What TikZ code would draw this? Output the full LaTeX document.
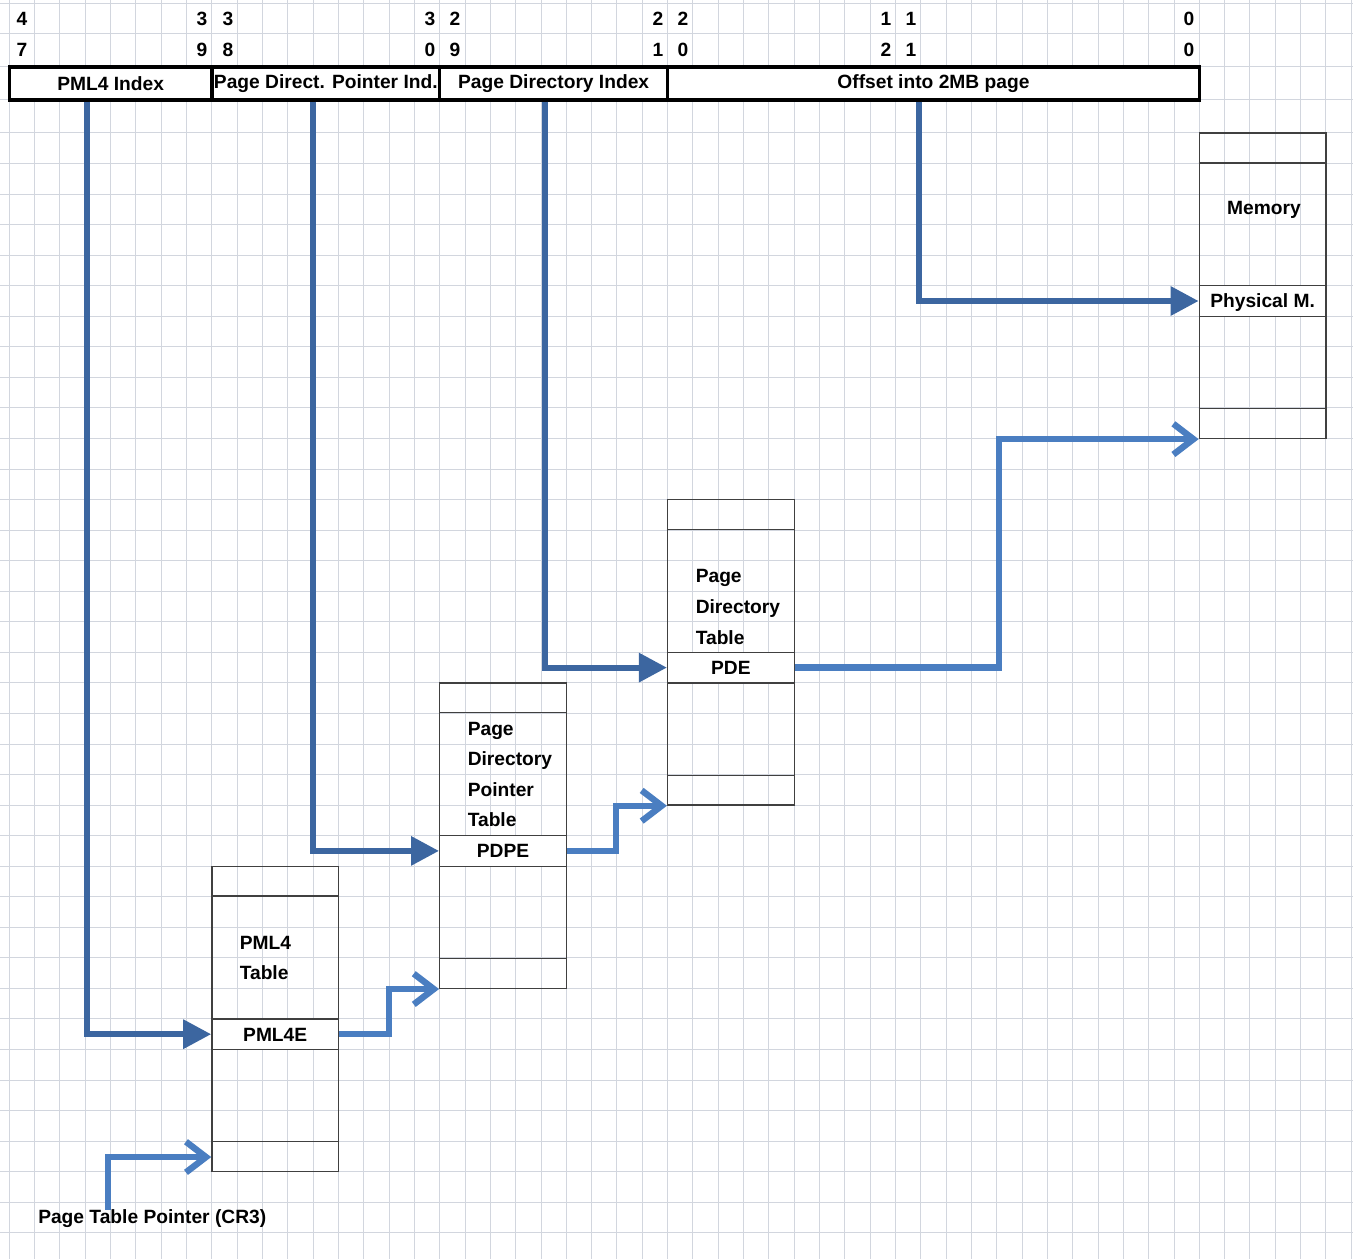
\documentclass[tikz,border=0pt]{standalone}
\usepackage{fontspec}
\setmainfont{Liberation Sans}
\usetikzlibrary{arrows.meta, positioning, calc}

\definecolor{gridgray}{RGB}{210,214,222}
\definecolor{darkarrow}{RGB}{60,102,160}
\definecolor{lightarrow}{RGB}{74,126,193}

\begin{document}
\begin{tikzpicture}[
    x=0.75pt, y=-0.75pt,
    every node/.style = {font=\fontsize{14.4}{22.91}\selectfont\bfseries, inner sep=0pt},
    gridline/.style   = {draw=gridgray, line width=0.75pt},
    fieldbox/.style   = {draw, line width=2.4pt, fill=white, minimum height=24.75pt},
    tablebox/.style   = {draw=black!75, line width=1pt, minimum width=94.95pt,
                         minimum height=229.1pt},
    rowline/.style    = {draw=black!75, line width=1pt},
    entrybox/.style   = {draw=black!75, line width=1pt, fill=white, minimum width=94.95pt,
                         minimum height=22.91pt, text height=10.4pt, text depth=0pt},
    bitnum/.style     = {anchor=center},
    darr/.style       = {-{Triangle[length=21pt, width=21pt]}, line width=4.6pt, draw=darkarrow},
    larr/.style       = {-{Straight Barb[length=15pt, width=23pt]}, line width=4.8pt, draw=lightarrow}
  ]
  \useasboundingbox (0,0) rectangle (1353,1259);
  \fill[white] (0,0) rectangle (1353,1259);

  % sheet grid
  \foreach \k in {0,...,53}
    \draw[gridline] ({9.3+25.32*\k},0) -- ({9.3+25.32*\k},1259);
  \foreach \y in {4,34,67,100}
    \draw[gridline] (0,\y) -- (1353,\y);
  \foreach \j in {0,...,36}
    \draw[gridline] (0,{133+30.55*\j}) -- (1353,{133+30.55*\j});

  % bit numbers
  \foreach \x/\hi/\lo in {22/4/7, 202/3/9, 228/3/8, 430/3/0, 455/2/9,
                          658/2/1, 683/2/0, 886/1/2, 911/1/1, 1189/0/0} {
    \node[bitnum] (hi\x) at (\x,19) {\hi};
    \node[bitnum] (lo\x) at (\x,50) {\lo};
  }

  % linear address fields
  \node[fieldbox, minimum width=151.95pt] (pml4idx) at (110.6,83.5) {PML4 Index};
  \node[fieldbox, minimum width=170.85pt] (pdpidx)  at (325.8,83.5) {Page Direct. Pointer Ind.};
  \node[fieldbox, minimum width=170.9pt]  (pdidx)   at (553.65,83.5) {Page Directory Index};
  \node[fieldbox, minimum width=398.8pt]  (offidx)  at (933.45,83.5) {Offset into 2MB page};

  % tables
  \node[tablebox] (mem)  at (1262.6,285.75) {};
  \node[tablebox] (pdt)  at (730.9,652.35) {};
  \node[tablebox] (pdpt) at (503,835.65) {};
  \node[tablebox] (pml4) at (275.2,1018.95) {};
  \foreach \t in {mem,pdt,pdpt,pml4} {
    \draw[rowline] ($(\t.north west)+(0,30.55)$) -- ($(\t.north east)+(0,30.55)$);
    \draw[rowline] ($(\t.south west)+(0,-30.55)$) -- ($(\t.south east)+(0,-30.55)$);
  }

  % table names
  \node (memname) at (1264,210) {Memory};
  \node[anchor=west, align=left] (pdtname)  at (695.5,607) {Page\\Directory\\Table};
  \node[anchor=west, align=left] (pdptname) at (467.5,774.5) {Page\\Directory\\Pointer\\Table};
  \node[anchor=west, align=left] (pml4name) at (239.5,958) {PML4\\Table};

  % entries
  \node[entrybox] (physm) at (1262.6,301) {Physical M.};
  \node[entrybox] (pde)   at (730.9,667.6) {PDE};
  \node[entrybox] (pdpe)  at (503,850.9) {PDPE};
  \node[entrybox] (pml4e) at (275.2,1034.2) {PML4E};

  % CR3
  \node[anchor=west] (cr3) at (38,1219) {Page Table Pointer (CR3)};
  \coordinate (pml4last) at ($(pml4.south west)+(0,-15.3)$);

  % index arrows
  \draw[darr] ($(pml4idx.south west)+(79,0)$) |- (pml4e);
  \draw[darr] ($(pdpidx.south west)+(103,0)$) |- (pdpe);
  \draw[darr] ($(pdidx.south west)+(107,0)$) |- (pde);
  \draw[darr] ($(offidx.south west)+(253,0)$) |- (physm);

  % base arrows
  \draw[larr] ($(cr3.north west)+(70,0)$) |- (pml4last);
  \draw[larr] (pml4e.east) -- ++(50,0) |- (pdpt.south west);
  \draw[larr] (pdpe.east) -- ++(49,0) |- (pdt.south west);
  \draw[larr] (pde.east) -- ++(204,0) |- (mem.south west);
\end{tikzpicture}
\end{document}
